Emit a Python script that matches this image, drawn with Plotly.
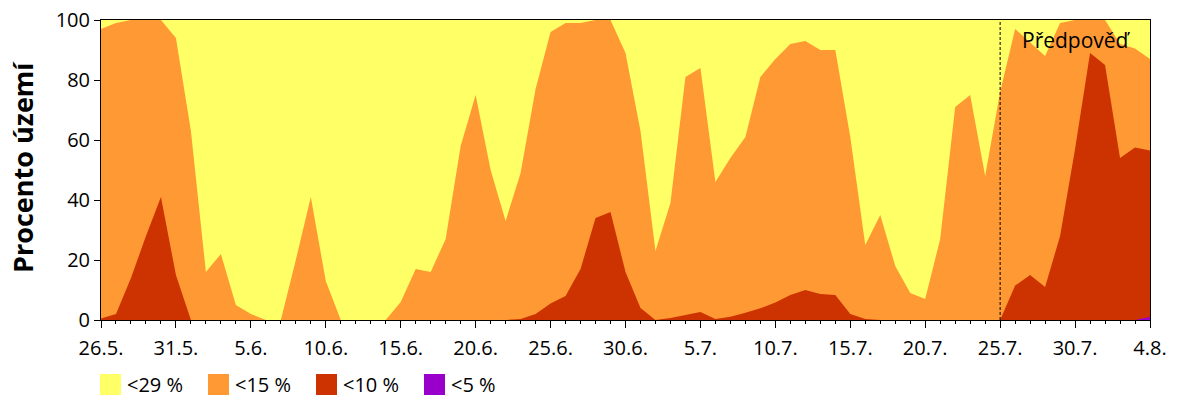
import plotly.graph_objects as go

# Day index 0 = 26.5., 70 = 4.8.
days = list(range(71))
tick_positions = [0, 5, 10, 15, 20, 25, 30, 35, 40, 45, 50, 55, 60, 65, 70]
tick_labels = ["26.5.", "31.5.", "5.6.", "10.6.", "15.6.", "20.6.", "25.6.", "30.6.",
               "5.7.", "10.7.", "15.7.", "20.7.", "25.7.", "30.7.", "4.8."]

lt29 = [100, 100, 100, 100, 100, 100, 100, 100, 100, 100,
        100, 100, 100, 100, 100, 100, 100, 100, 100, 100,
        100, 100, 100, 100, 100, 100, 100, 100, 100, 100,
        100, 100, 100, 100, 100, 100, 100, 100, 100, 100,
        100, 100, 100, 100, 100, 100, 100, 100, 100, 100,
        100, 100, 100, 100, 100, 100, 100, 100, 100, 100,
        100, 100, 100, 100, 100, 100, 100, 100, 100, 100,
        100]

lt15 = [97, 99, 100, 100, 100, 94, 63, 16, 22, 5,
        2, 0, 0, 20, 41, 13, 0, 0, 0, 0,
        6, 17, 16, 27, 58, 75, 50, 33, 49, 77,
        96, 99, 99, 100, 100, 89, 63, 23, 39, 81,
        84, 46, 54, 61, 81, 87, 92, 93, 90, 90,
        61, 25, 35, 18, 9, 7, 27, 71, 75, 48,
        76, 97, 92.5, 88, 99, 100, 100, 100, 92, 90.5,
        87]

lt10 = [0.5, 2, 14, 28, 41, 15, 0, 0, 0, 0,
        0, 0, 0, 0, 0, 0, 0, 0, 0, 0,
        0, 0, 0, 0, 0, 0, 0, 0, 0.3, 2,
        5.5, 8, 17, 34, 36, 16, 4, 0, 0.7, 1.7,
        2.7, 0.3, 1.1, 2.4, 3.9, 5.8, 8.3, 10, 8.7, 8.3,
        2, 0.3, 0, 0, 0, 0, 0, 0, 0, 0,
        0, 11.5, 15, 11, 28, 57, 89, 85, 54, 57.5,
        56.5]

lt5 = [0, 0, 0, 0, 0, 0, 0, 0, 0, 0,
       0, 0, 0, 0, 0, 0, 0, 0, 0, 0,
       0, 0, 0, 0, 0, 0, 0, 0, 0, 0,
       0, 0, 0, 0, 0, 0, 0, 0, 0, 0,
       0, 0, 0, 0, 0, 0, 0, 0, 0, 0,
       0, 0, 0, 0, 0, 0, 0, 0, 0, 0,
       0, 0, 0, 0, 0, 0, 0, 0, 0, 0,
       1]

series_names = ["<29 %", "<15 %", "<10 %", "<5 %"]
series_values = [lt29, lt15, lt10, lt5]
colors = ["#FFFF66", "#FF9933", "#CC3300", "#9900CC"]
forecast_start = 60

FONT = "Open Sans"

fig = go.Figure()
for name, vals, col in zip(series_names, series_values, colors):
    fig.add_trace(go.Scatter(
        x=days, y=vals, name=name, mode="lines",
        line=dict(width=0, color=col), fill="tozeroy", fillcolor=col,
        showlegend=False, hoverinfo="x+y+name"))

# vertical dashed forecast line
fig.add_shape(type="line", xref="x", yref="y", x0=forecast_start, x1=forecast_start,
              y0=0, y1=100, line=dict(color="black", width=1, dash="3px,2px"))
fig.add_annotation(x=61.3, y=93.3, xref="x", yref="y", text="Předpověď",
                   showarrow=False, xanchor="left", yanchor="middle",
                   font=dict(family=FONT, size=21, color="black"))

# manual legend (pixel -> paper conversion)
L, R, T, B = 101, 50, 20, 80
PW, PH = 1200 - L - R, 400 - T - B
def px(X):
    return (X - L) / PW
def py(Y):
    return (400 - B - Y) / PH

legend_x = [100, 208, 316, 424]
for X, name, col in zip(legend_x, series_names, colors):
    fig.add_shape(type="rect", xref="paper", yref="paper",
                  x0=px(X), x1=px(X + 21), y0=py(395), y1=py(374),
                  line=dict(width=0), fillcolor=col)
    fig.add_annotation(x=px(X + 25), y=py(384.5), xref="paper", yref="paper",
                       text=name, showarrow=False, xanchor="left", yanchor="middle",
                       font=dict(family=FONT, size=20, color="black"))

# y-axis title as rotated annotation
fig.add_annotation(x=px(22), y=py(167), xref="paper", yref="paper",
                   text="<b>Procento území</b>", textangle=-90, showarrow=False,
                   xanchor="center", yanchor="middle",
                   font=dict(family=FONT, size=27, color="black"))

fig.update_layout(
    width=1200, height=400,
    margin=dict(l=L, r=R, t=T, b=B, autoexpand=False),
    paper_bgcolor="white", plot_bgcolor="white",
    font=dict(family=FONT, size=20, color="black"),
    showlegend=False,
    xaxis=dict(range=[0, 70], tickmode="array", tickvals=tick_positions, ticktext=tick_labels,
               ticks="outside", ticklen=7, tickwidth=1, tickcolor="black",
               showline=True, linecolor="black", linewidth=1, mirror=True,
               showgrid=False, zeroline=False, automargin=False,
               ticklabelstandoff=3,
               tickfont=dict(family=FONT, size=20),
               minor=dict(tickmode="linear", tick0=0, dtick=1, ticks="outside",
                          ticklen=3, tickcolor="black", showgrid=False)),
    yaxis=dict(range=[0, 100], tickmode="array", tickvals=[0, 20, 40, 60, 80, 100],
               ticks="outside", ticklen=6, tickwidth=1, tickcolor="black",
               showline=True, linecolor="black", linewidth=1, mirror=True,
               showgrid=False, zeroline=False, automargin=False,
               tickfont=dict(family=FONT, size=20)),
)

fig.write_html("out.html")
